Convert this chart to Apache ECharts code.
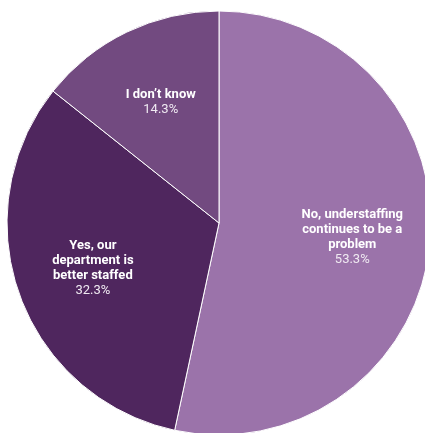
<!DOCTYPE html>
<html>
<head>
<meta charset="utf-8">
<script src="https://cdn.jsdelivr.net/npm/echarts@6/dist/echarts.min.js"></script>
<style>
  html, body { margin: 0; padding: 0; background: #ffffff; }
  #chart { width: 425px; height: 433px; }
</style>
</head>
<body>
<div id="chart"></div>
<script>
// Survey answers, clockwise from 12 o'clock
const categories = [
  "No, understaffing\ncontinues to be a\nproblem",
  "Yes, our\ndepartment is\nbetter staffed",
  "I don\u2019t know"
];
const shares = [53.3, 32.3, 14.3];
const sliceColors = ["#9b73aa", "#4f265e", "#724a80"];

const pieData = categories.map((name, i) => ({
  name: name,
  value: shares[i],
  itemStyle: { color: sliceColors[i] }
}));

const center = [219, 223];
const outerR = 212;

const chart = echarts.init(document.getElementById("chart"), null, { renderer: "canvas" });
chart.setOption({
  animation: false,
  backgroundColor: "#ffffff",
  series: [
    {
      // filled slices
      type: "pie",
      center: center,
      radius: [0, outerR],
      startAngle: 90,
      clockwise: true,
      silent: true,
      label: { show: false },
      labelLine: { show: false },
      itemStyle: { borderColor: "#ffffff", borderWidth: 1 },
      data: pieData
    },
    {
      // transparent ring that carries the labels a bit further out
      type: "pie",
      center: center,
      radius: [50, outerR],
      startAngle: 90,
      clockwise: true,
      silent: true,
      z: 5,
      itemStyle: { color: "rgba(0,0,0,0)", borderWidth: 0 },
      labelLine: { show: false },
      label: {
        show: true,
        position: "inside",
        formatter: p => "{n|" + p.name.split("\n").join("}\n{n|") + "}\n{v|" + p.value.toFixed(1) + "%}",
        rich: {
          n: {
            fontFamily: "Roboto",
            fontWeight: "bold",
            fontSize: 13,
            color: "#ffffff",
            lineHeight: 15,
            align: "center"
          },
          v: {
            fontFamily: "Roboto",
            fontWeight: "normal",
            fontSize: 13,
            color: "#f0eaf2",
            lineHeight: 15,
            align: "center"
          }
        }
      },
      data: categories.map((name, i) => ({ name: name, value: shares[i] }))
    }
  ]
});
</script>
</body>
</html>
